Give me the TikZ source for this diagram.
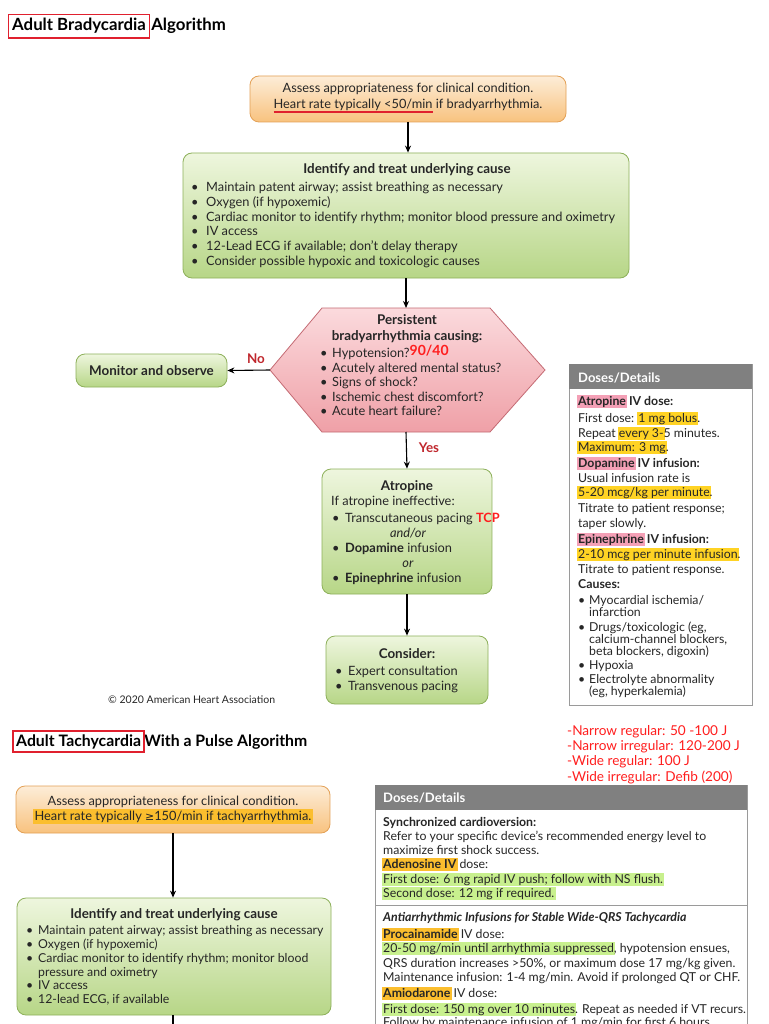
\documentclass[tikz,border=0pt]{standalone}
\usepackage{fontspec}
\setmainfont{Lato}
\newfontfamily\dejavu{DejaVu Sans}
\usetikzlibrary{arrows.meta,fit}
\definecolor{orTop}{HTML}{FDEDD8}
\definecolor{orBot}{HTML}{F8C27E}
\definecolor{orLine}{HTML}{E3A055}
\definecolor{grTop}{HTML}{EEF6DE}
\definecolor{grBot}{HTML}{B7D687}
\definecolor{grLine}{HTML}{8DB05A}
\definecolor{pkTop}{HTML}{FBDADD}
\definecolor{pkBot}{HTML}{EFA0A7}
\definecolor{pkLine}{HTML}{C46A73}
\definecolor{hdrGray}{HTML}{808080}
\definecolor{pnlLine}{HTML}{9A9A9A}
\definecolor{hlPink}{HTML}{F4A0B6}
\definecolor{hlYel}{HTML}{FFD324}
\definecolor{hlGrn}{HTML}{C8F08E}
\definecolor{hlOr}{HTML}{FBBE2E}
\definecolor{brRed}{HTML}{FF1E1E}
\definecolor{dkRed}{HTML}{C0272D}
\definecolor{boxRed}{HTML}{E0202E}
\definecolor{txtCol}{HTML}{262626}
\newcommand\hlx[2]{{\setlength{\fboxsep}{1.2pt}\kern-1.2pt\colorbox{#1}{\vphantom{Ag}#2}\kern-1.2pt}}
\newcommand\bu[1]{\makebox[#1][l]{•}}
\newcommand\redul[1]{\setbox0\hbox{#1}\rlap{\color{boxRed}\rule[-3.6pt]{\wd0}{1.6pt}}\box0\relax}
\begin{document}
\begin{tikzpicture}[x=1pt,y=-1pt,
  box/.style={draw, line width=0.8pt, rounded corners=9pt, inner sep=0pt},
  orbox/.style={box, draw=orLine, top color=orTop, bottom color=orBot},
  grbox/.style={box, draw=grLine, top color=grTop, bottom color=grBot},
  panel/.style={draw=pnlLine, line width=0.9pt, fill=white, inner sep=0pt},
  hdr/.style={fill=hdrGray, inner sep=0pt},
  txt/.style={inner sep=0pt, anchor=base west, text=txtCol, font=\fontsize{12.8}{15}\selectfont},
  txtc/.style={txt, anchor=base},
  hd/.style={txtc, font=\fontsize{13.4}{15}\bfseries\selectfont},
  ptxt/.style={txt, font=\fontsize{12.3}{14}\selectfont},
  ttl/.style={txt, text=black, font=\fontsize{16.8}{19}\bfseries\selectfont},
  arr/.style={-{Stealth[length=7pt,width=6pt]}, line width=1.1pt},
]
\useasboundingbox[fill=white] (0,0) rectangle (768,1024);

% ---------------- Bradycardia ----------------
\node[ttl] (t1a) at (12,31) {Adult Bradycardia};
\node[ttl] (t1b) at ([xshift=5pt]t1a.base east) {Algorithm};
\node[draw=boxRed, line width=1.4pt, fit=(t1a), inner xsep=3.5pt, inner ysep=4pt] (t1box) {};

\node[orbox, minimum width=316pt, minimum height=46pt] (ob1) at (408,99) {};
\node[txtc] (ob1a) at (408,93) {Assess appropriateness for clinical condition.};
\node[txtc] (ob1b) at (408,109) {\redul{Heart rate typically <50/min} if bradyarrhythmia.};

\node[grbox, minimum width=446pt, minimum height=125pt] (gb1) at (406,215.5) {};
\node[hd] (gb1t) at (407,174) {Identify and treat underlying cause};
\foreach \yy/\ss [count=\i] in {
  192/{Maintain patent airway; assist breathing as necessary},
  207/{Oxygen (if hypoxemic)},
  222/{Cardiac monitor to identify rhythm; monitor blood pressure and oximetry},
  236/{IV access},
  251/{12-Lead ECG if available; don’t delay therapy},
  265/{Consider possible hypoxic and toxicologic causes}}
  {\node[txt] (gb1l\i) at (191,\yy) {\bu{15pt}\ss};}

% hexagon
\coordinate (hxT) at (406,308);
\coordinate (hxL) at (270,370);
\coordinate (hxB) at (406,432);
\coordinate (hxR) at (545,370);
\draw[draw=pkLine, line width=0.8pt, top color=pkTop, bottom color=pkBot]
  (322,308) -- (490,308) -- (hxR) -- (490,432) -- (322,432) -- (hxL) -- cycle;
\node[hd] (hx1) at (407,324) {Persistent};
\node[hd] (hx2) at (407,340) {bradyarrhythmia causing:};
\foreach \yy/\ss [count=\i] in {
  357/{Hypotension?{\color{brRed}\bfseries\fontsize{14}{15}\selectfont\raisebox{2pt}{90/40}}},
  372/{Acutely altered mental status?},
  386/{Signs of shock?},
  401/{Ischemic chest discomfort?},
  415/{Acute heart failure?}}
  {\node[txt] (hxl\i) at (320,\yy) {\bu{12pt}\ss};}

\node[grbox, minimum width=151pt, minimum height=33pt] (mon) at (151.5,370.5) {};
\node[hd] (mont) at (151.5,375) {Monitor and observe};
\node[hd, text=dkRed] (no) at (256,363) {No};
\node[hd, text=dkRed] (yes) at (429,452) {Yes};

\node[grbox, minimum width=170pt, minimum height=125pt] (atr) at (407,531.5) {};
\node[hd] (atr1) at (407,490) {Atropine};
\node[txt] (atr2) at (331,505) {If atropine ineffective:};
\node[txt] (atr3) at (332,522) {\bu{13pt}Transcutaneous pacing {\color{brRed}\bfseries TCP}};
\node[txtc] (atr4) at (408,537) {\itshape and/or};
\node[txt] (atr5) at (332,552) {\bu{13pt}\textbf{Dopamine} infusion};
\node[txtc] (atr6) at (408,567) {\itshape or};
\node[txt] (atr7) at (332,582) {\bu{13pt}\textbf{Epinephrine} infusion};

\node[grbox, minimum width=162pt, minimum height=68pt] (con) at (407,670) {};
\node[hd] (con1) at (407,658) {Consider:};
\node[txt] (con2) at (335,675) {\bu{13pt}Expert consultation};
\node[txt] (con3) at (335,690) {\bu{13pt}Transvenous pacing};

\node[txt, font=\fontsize{10.5}{12}\selectfont] (copy) at (108,703) {© 2020 American Heart Association};

\draw[arr] (ob1.south) -- (ob1.south |- gb1.north);
\draw[arr] (gb1.south) -- (hxT);
\draw[arr] (hxL) -- (mon.east);
\draw[arr] (hxB) -- (atr.north);
\draw[arr] (atr.south) -- (con.north);

% panel 1
\node[panel, minimum width=183pt, minimum height=341pt] (p1) at (660.5,534.5) {};
\node[hdr, minimum width=183pt, minimum height=25pt, anchor=north] (p1h) at (p1.north) {};
\node[txt, text=white, font=\fontsize{13}{15}\bfseries\selectfont] (p1ht) at (578,382) {Doses/Details};
\foreach \xx/\yy/\ss [count=\i] in {
  578/405/{\bfseries\hlx{hlPink}{Atropine} IV dose:},
  578/422/{First dose: \hlx{hlYel}{1 mg bolus}.},
  578/437/{Repeat \hlx{hlYel}{every 3-}5 minutes.},
  578/451/{\hlx{hlYel}{Maximum: 3 mg}.},
  578/467/{\bfseries\hlx{hlPink}{Dopamine} IV infusion:},
  578/482/{Usual infusion rate is},
  578/496/{\hlx{hlYel}{5-20 mcg/kg per minute}.},
  578/512/{Titrate to patient response;},
  578/527/{taper slowly.},
  578/543/{\bfseries\hlx{hlPink}{Epinephrine} IV infusion:},
  578/558/{\hlx{hlYel}{2-10 mcg per minute infusion}.},
  578/573/{Titrate to patient response.},
  578/588/{\bfseries Causes:},
  578/604/{\bu{11pt}Myocardial ischemia/},
  589/616/{infarction},
  578/631/{\bu{11pt}Drugs/toxicologic (eg,},
  589/643/{calcium-channel blockers,},
  589/655/{beta blockers, digoxin)},
  578/669/{\bu{11pt}Hypoxia},
  578/683/{\bu{11pt}Electrolyte abnormality},
  589/695/{(eg, hyperkalemia)}}
  {\node[ptxt] (p1l\i) at (\xx,\yy) {\ss};}

% ---------------- Tachycardia ----------------
\node[ttl, font=\fontsize{15.8}{18}\bfseries\selectfont] (t2a) at (16,746) {Adult Tachycardia};
\node[ttl, font=\fontsize{15.8}{18}\bfseries\selectfont] (t2b) at ([xshift=3pt]t2a.base east) {With a Pulse Algorithm};
\node[draw=boxRed, line width=1.4pt, fit=(t2a), inner xsep=3pt, inner ysep=3pt] (t2box) {};

\foreach \yy/\ss [count=\i] in {
  735/{-Narrow regular: 50 -100 J},
  750/{-Narrow irregular: 120-200 J},
  765/{-Wide regular: 100 J},
  781/{-Wide irregular: Defib (200)}}
  {\node[txt, text=brRed, font=\fontsize{13.6}{15}\selectfont] (rn\i) at (567,\yy) {\ss};}

\node[orbox, minimum width=314pt, minimum height=47pt] (ob2) at (173,809.5) {};
\node[txtc] (ob2a) at (173,805) {Assess appropriateness for clinical condition.};
\node[txtc] (ob2b) at (173,820) {\hlx{hlOr}{Heart rate typically {\dejavu\fontsize{11}{12}\selectfont ≥}150/min if tachyarrhythmia.}};

\node[grbox, minimum width=314pt, minimum height=117pt] (gb2) at (174,956.5) {};
\node[hd] (gb2t) at (174,918) {Identify and treat underlying cause};
\foreach \xx/\yy/\ss [count=\i] in {
  26/934/{\bu{12pt}Maintain patent airway; assist breathing as necessary},
  26/948/{\bu{12pt}Oxygen (if hypoxemic)},
  26/962/{\bu{12pt}Cardiac monitor to identify rhythm; monitor blood},
  38/976/{pressure and oximetry},
  26/989/{\bu{12pt}IV access},
  26/1003/{\bu{12pt}12-lead ECG, if available}}
  {\node[ptxt] (gb2l\i) at (\xx,\yy) {\ss};}

\coordinate (gbEnd) at (173,1030);
\draw[arr] (ob2.south) -- (ob2.south |- gb2.north);
\draw[line width=1.1pt] (gb2.south -| ob2.south) -- (gbEnd);

% panel 2
\node[panel, minimum width=372pt, minimum height=250pt, anchor=north west] (p2) at (375,785) {};
\node[hdr, minimum width=372pt, minimum height=25pt, anchor=north] (p2h) at (p2.north) {};
\node[txt, text=white, font=\fontsize{13}{15}\bfseries\selectfont] (p2ht) at (383,802) {Doses/Details};
\draw[pnlLine, line width=0.9pt] (p2.west |- 0,905) coordinate (sepA) -- (p2.east |- 0,905) coordinate (sepB);
\foreach \yy/\ss [count=\i] in {
  826/{\bfseries Synchronized cardioversion:},
  840/{Refer to your specific device’s recommended energy level to},
  854/{maximize first shock success.},
  868/{\hlx{hlOr}{\bfseries Adenosine IV} dose:},
  883/{\hlx{hlGrn}{First dose: 6 mg rapid IV push; follow with NS flush.}},
  897/{\hlx{hlGrn}{Second dose: 12 mg if required.}},
  921/{\bfseries\itshape Antiarrhythmic Infusions for Stable Wide-QRS Tachycardia},
  938/{\hlx{hlOr}{\bfseries Procainamide} IV dose:},
  952/{\hlx{hlGrn}{20-50 mg/min until arrhythmia suppressed}, hypotension ensues,},
  967/{QRS duration increases >50\%, or maximum dose 17 mg/kg given.},
  981/{Maintenance infusion: 1-4 mg/min. Avoid if prolonged QT or CHF.},
  997/{\hlx{hlOr}{\bfseries Amiodarone} IV dose:},
  1013/{\hlx{hlGrn}{First dose: 150 mg over 10 minutes}. Repeat as needed if VT recurs.},
  1026/{Follow by maintenance infusion of 1 mg/min for first 6 hours.}}
  {\node[ptxt] (p2l\i) at (383,\yy) {\ss};}
\end{tikzpicture}
\end{document}
